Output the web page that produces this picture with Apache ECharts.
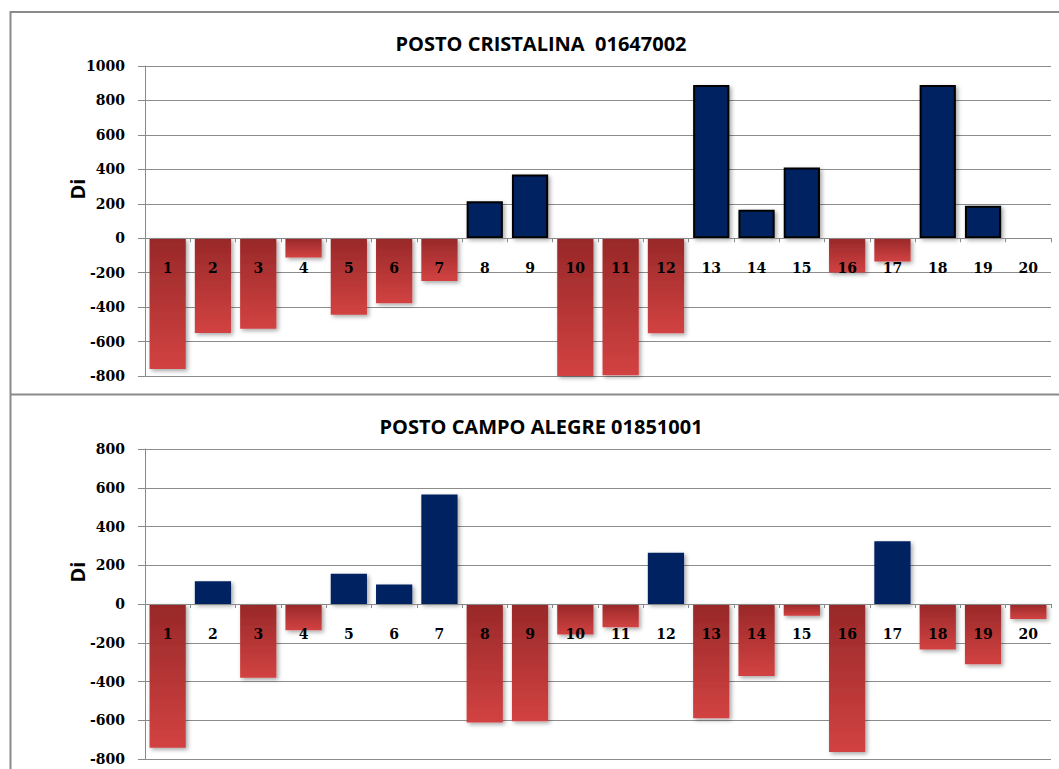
<!DOCTYPE html>
<html>
<head>
<meta charset="utf-8">
<script src="https://cdn.jsdelivr.net/npm/echarts@6/dist/echarts.min.js"></script>
<style>
html,body{margin:0;padding:0;background:#fff;}
#c{width:1059px;height:769px;}
</style>
</head>
<body>
<div id="c"></div>
<script>
var categories = ['1','2','3','4','5','6','7','8','9','10','11','12','13','14','15','16','17','18','19','20'];
var cristalina = [-760,-550,-525,-112,-445,-378,-248,214,370,-800,-795,-552,890,166,411,-199,-135,890,189,0];
var campoAlegre = [-742,118,-381,-135,156,101,565,-611,-605,-158,-120,265,-590,-371,-60,-764,324,-235,-311,-77];
var titleTop = 'POSTO CRISTALINA  01647002';
var titleBottom = 'POSTO CAMPO ALEGRE 01851001';
var yTicksTop = {min:-800, max:1000, interval:200};
var yTicksBottom = {min:-800, max:800, interval:200};

var redGrad = {type:'linear', x:0, y:0, x2:0, y2:1,
  colorStops:[{offset:0,color:'#982828'},{offset:1,color:'#d24242'}]};
var shadow = {shadowColor:'rgba(0,0,0,0.35)', shadowBlur:4, shadowOffsetX:2, shadowOffsetY:2};

function items(vals, border){
  return vals.map(function(v){
    var st;
    if (v < 0) st = Object.assign({color:redGrad}, shadow);
    else st = Object.assign({color:'#002060', borderColor: border ? '#000' : 'transparent', borderWidth: border ? 2 : 0}, shadow);
    return {value:v, itemStyle:st};
  });
}

var labelFont = {color:'#000', fontFamily:'DejaVu Serif', fontWeight:'bold', fontSize:14};
function xAx(gi){
  return {type:'category', gridIndex:gi, data:categories, z:5,
    axisLine:{onZero:true, onZeroAxisIndex:gi, lineStyle:{color:'#888', width:1}},
    axisTick:{show:true, length:4, lineStyle:{color:'#888'}},
    axisLabel:Object.assign({margin:23, interval:0}, labelFont),
    splitLine:{show:false}};
}
function yAx(gi, t){
  return {type:'value', gridIndex:gi, min:t.min, max:t.max, interval:t.interval,
    axisLine:{show:true, lineStyle:{color:'#888'}},
    axisTick:{show:true, length:7, lineStyle:{color:'#888'}},
    axisLabel:Object.assign({margin:20, formatter:function(v){return String(v);}}, labelFont),
    splitLine:{show:true, lineStyle:{color:'#8c8c8c', width:1}}};
}

var chart = echarts.init(document.getElementById('c'), null, {renderer:'svg'});
chart.setOption({
  animation:false,
  backgroundColor:'#fff',
  grid:[
    {left:145, right:8, top:66, height:310, containLabel:false, outerBoundsMode:'none'},
    {left:145, right:8, top:449, height:310, containLabel:false, outerBoundsMode:'none'}
  ],
  xAxis:[xAx(0), xAx(1)],
  yAxis:[yAx(0, yTicksTop), yAx(1, yTicksBottom)],
  series:[
    {type:'bar', xAxisIndex:0, yAxisIndex:0, barCategoryGap:'20%', data:items(cristalina, true)},
    {type:'bar', xAxisIndex:1, yAxisIndex:1, barCategoryGap:'20%', data:items(campoAlegre, false)}
  ],
  graphic:[
    {type:'polyline', shape:{points:[[10.5,769],[10.5,12],[1059,12]]}, style:{stroke:'#8a8a8a', lineWidth:2, fill:null}},
    {type:'line', shape:{x1:10, y1:394.5, x2:1059, y2:394.5}, style:{stroke:'#8a8a8a', lineWidth:2}},
    {type:'text', x:541, y:43, style:{text:titleTop, align:'center', verticalAlign:'middle', fill:'#000', fontFamily:'Open Sans', fontWeight:'bold', fontSize:20}},
    {type:'text', x:541, y:426, style:{text:titleBottom, align:'center', verticalAlign:'middle', fill:'#000', fontFamily:'Open Sans', fontWeight:'bold', fontSize:20}},
    {type:'text', x:77, y:189, rotation:Math.PI/2, style:{text:'Di', align:'center', verticalAlign:'middle', fill:'#000', fontFamily:'Open Sans', fontWeight:'bold', fontSize:20}},
    {type:'text', x:77, y:572, rotation:Math.PI/2, style:{text:'Di', align:'center', verticalAlign:'middle', fill:'#000', fontFamily:'Open Sans', fontWeight:'bold', fontSize:20}}
  ]
});

// place each category axis on the zero line of its value axis (via the library's scale)
function placeOnZero(){
  var z0 = chart.convertToPixel({yAxisIndex:0}, 0);
  var m0 = chart.convertToPixel({yAxisIndex:0}, yTicksTop.min);
  var z1 = chart.convertToPixel({yAxisIndex:1}, 0);
  var m1 = chart.convertToPixel({yAxisIndex:1}, yTicksBottom.min);
  chart.setOption({xAxis:[{offset: z0 - m0}, {offset: z1 - m1}]});
}
placeOnZero();
placeOnZero();
</script>
</body>
</html>
